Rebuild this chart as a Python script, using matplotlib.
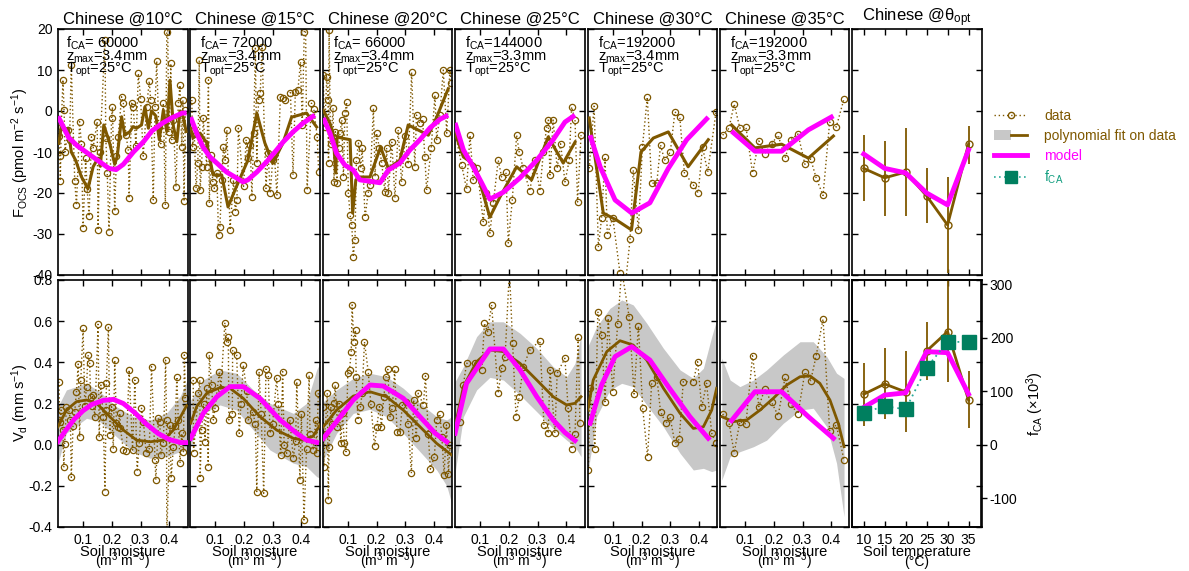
import numpy as np
import matplotlib
matplotlib.use('Agg')
import matplotlib.pyplot as plt
from matplotlib.lines import Line2D
from matplotlib.patches import Patch
from matplotlib.legend_handler import HandlerTuple

plt.rcParams['font.family'] = ['Liberation Sans', 'DejaVu Sans']
plt.rcParams['mathtext.fontset'] = 'custom'
plt.rcParams['mathtext.rm'] = 'Liberation Sans'
plt.rcParams['mathtext.it'] = 'Liberation Sans:italic'
plt.rcParams['mathtext.bf'] = 'Liberation Sans:bold'
plt.rcParams['axes.unicode_minus'] = False

# ---------------- DATA ----------------
temps_moist = [10, 15, 20, 25, 30, 35]
fca_text = [" 60000", " 72000", " 66000", "144000", "192000", "192000"]
zmax_text = ["3.4", "3.4", "3.4", "3.3", "3.4", "3.3"]
topt_text = ["25", "25", "25", "25", "25", "25"]

# ---- 10 C ----
p10_F = [(0.016,-6),(0.019,-11),(0.021,-17),(0.024,-3.8),(0.030,7.6),(0.034,0.2),(0.037,-10),(0.048,-4.6),(0.053,-7),(0.059,11.2),(0.071,-17),(0.077,-23),(0.088,-2.6),(0.094,-8),(0.100,-28.6),(0.109,-11.5),(0.114,-19),(0.121,-25.7),(0.129,-6.3),(0.135,-9),(0.149,-2.6),(0.152,-29),(0.158,-10),(0.176,17.3),(0.179,-6.7),(0.184,-15.2),(0.190,-29.4),(0.199,-1.8),(0.202,1),(0.210,-24.5),(0.216,-11),(0.222,-6.3),(0.234,3.5),(0.240,1.9),(0.249,-5.8),(0.257,-9.5),(0.260,-21.3),(0.269,1.9),(0.274,1),(0.284,-8.5),(0.292,9.2),(0.300,3),(0.309,-11),(0.321,1),(0.330,7.3),(0.335,2.7),(0.344,-21.7),(0.350,1),(0.356,12.2),(0.363,-3.8),(0.370,-8),(0.379,1.9),(0.386,-23),(0.391,19.3),(0.393,28),(0.398,-5),(0.405,11.6),(0.408,-7),(0.414,-2.2),(0.423,-18.5),(0.431,1.9),(0.437,6.3),(0.443,-8.7),(0.447,2.7),(0.451,-22),(0.456,0.2)]
p10_Ffit_x = [0.016,0.024,0.036,0.048,0.059,0.074,0.094,0.117,0.135,0.152,0.160,0.172,0.193,0.210,0.219,0.234,0.245,0.263,0.274,0.286,0.303,0.315,0.327,0.338,0.353,0.365,0.379,0.391,0.402,0.414,0.426,0.437,0.449,0.458]
p10_Ffit_y = [-7.9,-3.8,-4.5,-4.2,-10,-12,-16,-19,-13.6,-11.5,-13.5,-3.4,-8,-13,-11,-1.4,-5.9,-5,-3.8,-4.2,-3.4,1,-4.2,0,-1.2,-7,0.2,-5,7.5,-3.8,-7.5,0,-1.6,-5]
p10_Fmod_x = [0.013,0.05,0.08,0.11,0.15,0.19,0.215,0.24,0.275,0.31,0.34,0.375,0.41,0.445,0.46]
p10_Fmod_y = [-1.3,-6.5,-8.5,-10,-12,-14,-14.3,-13,-10,-7.5,-4.8,-3,-1.6,-0.5,-0.5]
p10_V = [(0.016,0.306),(0.019,0.112),(0.024,0.168),(0.030,0.071),(0.033,-0.11),(0.036,0.003),(0.042,0.185),(0.050,0.17),(0.056,0.12),(0.059,-0.159),(0.065,0.09),(0.071,0.16),(0.077,0.257),(0.083,0.392),(0.088,0.039),(0.092,0.314),(0.100,0.565),(0.106,0.188),(0.112,0.282),(0.117,0.436),(0.123,0.395),(0.126,0.233),(0.130,0.19),(0.133,0.241),(0.141,0.136),(0.152,0.585),(0.156,0.039),(0.162,0.29),(0.170,0.136),(0.176,-0.228),(0.180,0.17),(0.181,0.298),(0.188,0.57),(0.193,0.047),(0.199,0.185),(0.205,-0.021),(0.210,0.411),(0.216,0.104),(0.222,0.087),(0.228,0.152),(0.230,0.08),(0.240,-0.026),(0.250,-0.03),(0.260,0.363),(0.272,-0.026),(0.280,0.314),(0.288,-0.131),(0.295,0.006),(0.303,0.177),(0.310,0.11),(0.319,-0.042),(0.330,-0.02),(0.338,0.379),(0.350,-0.075),(0.353,-0.172),(0.362,0.128),(0.367,0.112),(0.370,-0.05),(0.379,0.006),(0.387,0.411),(0.390,0.12),(0.391,-0.45),(0.402,0.096),(0.406,-0.163),(0.414,-0.01),(0.420,0.09),(0.426,0.33),(0.431,0.12),(0.437,-0.09),(0.443,0.055),(0.449,-0.034),(0.452,0.436),(0.456,0.225)]
p10_Vfit_x = [0.013,0.042,0.077,0.112,0.147,0.193,0.240,0.286,0.333,0.379,0.414,0.460]
p10_Vfit_y = [0.087,0.168,0.209,0.217,0.201,0.136,0.071,0.022,0.014,0.022,0.071,0.19]
p10_band_x = [0.013,0.042,0.112,0.158,0.216,0.274,0.333,0.391,0.437,0.463]
p10_band_hi = [0.185,0.266,0.298,0.257,0.185,0.136,0.12,0.154,0.233,0.314]
p10_band_lo = [-0.09,0.056,0.128,0.112,0.039,-0.034,-0.066,-0.058,-0.034,-0.026]
p10_Vmod_x = [0.013,0.04,0.07,0.10,0.13,0.17,0.205,0.24,0.28,0.32,0.36,0.40,0.44,0.46]
p10_Vmod_y = [0.016,0.07,0.125,0.165,0.195,0.215,0.22,0.2,0.155,0.10,0.055,0.025,0.01,0.01]

# ---- 15 C ----
p15_F = [(0.019,2.7),(0.022,-8.7),(0.027,-4.6),(0.034,-18.9),(0.040,-12.8),(0.045,12.4),(0.048,-19.3),(0.053,-13.6),(0.059,-1.8),(0.065,-7.9),(0.071,-13.6),(0.077,7.6),(0.080,-22.5),(0.085,-10.7),(0.092,-17.2),(0.097,-18.9),(0.106,-15.2),(0.112,-30.2),(0.117,-28.2),(0.123,-16.8),(0.129,-8.7),(0.135,-12),(0.141,-4.6),(0.152,-29),(0.164,-16.8),(0.170,-24.6),(0.176,-21.7),(0.181,-4.2),(0.199,-18.4),(0.208,-7),(0.213,-11.5),(0.222,-8.3),(0.228,-20.9),(0.234,-5.4),(0.240,15.3),(0.245,-12.8),(0.251,2.7),(0.257,4.3),(0.263,15.7),(0.277,-18.9),(0.284,-10.3),(0.292,-20.1),(0.300,-12),(0.306,-10.7),(0.315,-20.5),(0.327,3.5),(0.336,3.1),(0.344,2.7),(0.362,4.5),(0.371,-15.6),(0.379,4.7),(0.388,5.1),(0.397,12),(0.403,-3.4),(0.410,19.3),(0.414,25),(0.420,-19.3),(0.435,1.9),(0.443,0.6),(0.455,-6.3),(0.460,-14.8)]
p15_Ffit_x = [0.015,0.023,0.048,0.071,0.093,0.123,0.145,0.169,0.214,0.245,0.273,0.301,0.336,0.366,0.418,0.453]
p15_Ffit_y = [-4.2,-6.6,-5.4,-7.8,-15.6,-15.6,-23.4,-19.3,-12,-0.5,-7.8,-12.7,-7.8,-1.5,-0.5,-3.9]
p15_Fmod_x = [0.015,0.036,0.058,0.082,0.106,0.14,0.169,0.197,0.214,0.245,0.279,0.308,0.336,0.371,0.405,0.447]
p15_Fmod_y = [-1.5,-5.4,-8.8,-11.2,-12.7,-14.9,-16.1,-17.3,-16.8,-14.9,-12.4,-10,-7.6,-5.1,-3,-1]
p15_V = [(0.024,0.314),(0.025,-0.039),(0.042,0.25),(0.047,0.314),(0.048,-0.163),(0.053,0.071),(0.060,0.2),(0.065,0.014),(0.071,0.274),(0.076,-0.107),(0.080,0.436),(0.088,0.29),(0.094,0.12),(0.100,0.18),(0.115,0.355),(0.120,0.27),(0.134,0.593),(0.140,0.5),(0.146,0.525),(0.148,0.12),(0.160,0.15),(0.161,0.46),(0.175,0.436),(0.184,0.055),(0.190,0.2),(0.198,0.387),(0.210,0.26),(0.215,0.12),(0.231,0.16),(0.240,0.1),(0.245,-0.228),(0.253,0.355),(0.260,0.15),(0.269,-0.236),(0.277,0.367),(0.285,0.338),(0.291,0.055),(0.300,0.1),(0.314,0.322),(0.320,0.2),(0.328,-0.05),(0.335,0.355),(0.340,0.0),(0.349,-0.042),(0.360,0.12),(0.372,-0.066),(0.380,0.02),(0.384,0.306),(0.395,-0.172),(0.400,0.15),(0.409,-0.366),(0.418,-0.021),(0.427,0.338),(0.430,0.05),(0.441,-0.026),(0.450,0.12),(0.453,-0.039),(0.459,0.25)]
p15_Vfit_x = [0.015,0.036,0.071,0.117,0.152,0.198,0.256,0.314,0.372,0.407,0.441,0.465]
p15_Vfit_y = [0.104,0.185,0.25,0.277,0.274,0.225,0.136,0.071,0.031,0.022,0.042,0.096]
p15_band_x = [0.015,0.059,0.117,0.175,0.233,0.291,0.372,0.418,0.453,0.465]
p15_band_hi = [0.217,0.314,0.363,0.347,0.266,0.201,0.152,0.201,0.363,0.397]
p15_band_lo = [-0.01,0.152,0.193,0.168,0.071,-0.026,-0.09,-0.107,-0.155,-0.163]
p15_Vmod_x = [0.015,0.059,0.106,0.152,0.198,0.256,0.326,0.384,0.418,0.453]
p15_Vmod_y = [0.031,0.152,0.233,0.282,0.282,0.225,0.12,0.055,0.022,0.011]

# ---- 20 C ----
p20_F = [(0.014,8.8),(0.020,-4),(0.027,8.3),(0.031,2.7),(0.033,-12.7),(0.035,19.8),(0.040,-8),(0.049,0.7),(0.052,-17.3),(0.057,-5),(0.062,-17.6),(0.068,-9),(0.073,-5.4),(0.079,-2.2),(0.085,-16),(0.090,-0.5),(0.096,2.2),(0.102,-20),(0.108,-25.4),(0.114,-27.8),(0.119,-35.6),(0.125,-31.5),(0.130,-12),(0.137,-7.8),(0.145,-14),(0.150,-9),(0.160,-25.9),(0.171,-20),(0.177,-18),(0.189,0.7),(0.195,-16),(0.200,-5.4),(0.210,-9),(0.218,-12.7),(0.229,-19.8),(0.235,-9),(0.241,-20),(0.253,-7.6),(0.264,-21.2),(0.275,-4.6),(0.287,-17.3),(0.300,-6),(0.310,-13),(0.322,9.5),(0.333,-13.6),(0.339,-1),(0.350,-3),(0.360,-2),(0.368,-11.2),(0.374,-19.3),(0.390,-9),(0.403,3.9),(0.409,-7),(0.420,-1),(0.432,10),(0.444,-5.4),(0.455,10),(0.459,6.8)]
p20_Ffit_x = [0.015,0.038,0.049,0.058,0.063,0.079,0.108,0.117,0.128,0.142,0.177,0.214,0.241,0.281,0.310,0.380,0.409,0.449]
p20_Ffit_y = [0.2,-3,-5.4,-15.1,-6.3,-6.6,-7,-24.9,-16.8,-16.1,-16.1,-8.8,-14,-12,-3.4,-5.9,-1.5,5.4]
p20_Fmod_x = [0.015,0.038,0.061,0.09,0.119,0.142,0.212,0.241,0.281,0.316,0.351,0.386,0.421,0.449]
p20_Fmod_y = [-1.7,-5.4,-10.3,-13.2,-14.4,-16.8,-17.5,-14.4,-12.7,-9.5,-7,-4.1,-2,-1]
p20_V = [(0.014,0.185),(0.017,-0.107),(0.020,0.05),(0.029,0.25),(0.032,-0.269),(0.035,-0.01),(0.041,0.185),(0.045,0.1),(0.052,0.201),(0.056,0.29),(0.064,0.087),(0.070,0.2),(0.076,0.006),(0.082,0.152),(0.088,0.006),(0.094,-0.034),(0.100,0.347),(0.106,0.363),(0.112,0.452),(0.115,0.679),(0.121,0.5),(0.127,0.557),(0.129,0.33),(0.135,0.12),(0.144,0.185),(0.150,0.25),(0.158,0.5),(0.171,0.355),(0.180,0.2),(0.193,-0.006),(0.201,0.087),(0.210,0.185),(0.217,0.087),(0.225,0.23),(0.233,0.33),(0.239,0.366),(0.247,0.136),(0.255,0.18),(0.263,0.366),(0.271,0.063),(0.281,0.063),(0.290,0.193),(0.302,0.209),(0.310,0.1),(0.321,-0.139),(0.329,0.217),(0.338,0.031),(0.345,0.25),(0.363,0.193),(0.370,0.334),(0.380,0.05),(0.387,-0.119),(0.401,-0.058),(0.409,0.12),(0.420,0.15),(0.427,0.039),(0.435,-0.147),(0.443,0.096),(0.450,-0.143),(0.455,0.0)]
p20_Vfit_x = [0.015,0.061,0.119,0.177,0.235,0.293,0.351,0.409,0.461]
p20_Vfit_y = [0.087,0.168,0.236,0.257,0.233,0.168,0.087,0.006,-0.05]
p20_band_x = [0.015,0.061,0.119,0.177,0.235,0.293,0.351,0.409,0.444,0.461]
p20_band_hi = [0.209,0.266,0.322,0.347,0.33,0.274,0.201,0.136,0.12,0.136]
p20_band_lo = [-0.074,0.055,0.152,0.172,0.136,0.055,-0.034,-0.123,-0.2,-0.285]
p20_Vmod_x = [0.015,0.061,0.119,0.177,0.223,0.293,0.351,0.404,0.444]
p20_Vmod_y = [0.031,0.112,0.217,0.29,0.285,0.225,0.136,0.055,0.014]

# ---- 25 C ----
p25_F = [(0.013,-5.1),(0.036,-13.2),(0.053,-19),(0.065,-5.9),(0.076,-16.8),(0.090,-14),(0.111,-27),(0.120,-20),(0.134,-29.8),(0.146,-22.4),(0.163,-12),(0.175,-16.1),(0.190,-15),(0.198,-32.2),(0.212,-21.7),(0.227,-5.9),(0.236,-10),(0.250,-14),(0.273,-19.5),(0.290,-12),(0.308,-19.5),(0.320,-10),(0.331,-4.2),(0.337,-2.2),(0.343,-15.6),(0.354,-2.2),(0.368,-14),(0.380,-8),(0.395,-17.3),(0.410,-12),(0.418,1),(0.430,-2.2),(0.439,-22.2),(0.451,-5.9)]
p25_Ffit_x = [0.013,0.042,0.082,0.134,0.169,0.227,0.279,0.337,0.389,0.43]
p25_Ffit_y = [-5.4,-11.2,-13.2,-25.9,-21,-13.6,-16.8,-6.3,-12.7,-7.6]
p25_Fmod_x = [0.013,0.042,0.076,0.106,0.134,0.181,0.239,0.297,0.354,0.395,0.43]
p25_Fmod_y = [-2.9,-9.5,-13.6,-17.6,-21.5,-19.8,-16.3,-12,-7,-2.7,-1]
p25_V = [(0.030,0.112),(0.042,0.29),(0.053,0.395),(0.082,0.395),(0.106,0.363),(0.115,0.59),(0.126,0.549),(0.140,0.679),(0.163,0.25),(0.175,0.371),(0.187,0.428),(0.202,0.85),(0.213,0.495),(0.225,0.136),(0.236,0.233),(0.250,0.379),(0.273,0.46),(0.308,0.505),(0.322,0.096),(0.337,0.055),(0.343,0.363),(0.360,0.055),(0.368,0.347),(0.395,0.42),(0.406,0.177),(0.418,-0.021),(0.430,0.052),(0.441,0.525),(0.447,0.104)]
p25_Vfit_x = [0.013,0.042,0.088,0.134,0.181,0.239,0.297,0.354,0.401,0.43,0.451]
p25_Vfit_y = [0.087,0.282,0.403,0.46,0.452,0.395,0.314,0.233,0.193,0.201,0.233]
p25_band_x = [0.013,0.042,0.088,0.134,0.181,0.239,0.297,0.354,0.401,0.43,0.451]
p25_band_hi = [0.306,0.379,0.525,0.597,0.597,0.541,0.468,0.379,0.33,0.395,0.533]
p25_band_lo = [-0.139,0.136,0.266,0.327,0.314,0.241,0.16,0.079,0.022,-0.01,-0.058]
p25_Vmod_x = [0.013,0.053,0.1,0.134,0.181,0.239,0.297,0.354,0.395,0.43]
p25_Vmod_y = [0.055,0.298,0.395,0.465,0.465,0.363,0.233,0.12,0.059,0.02]

# ---- 30 C ----
p30_F = [(0.018,-14),(0.035,1.2),(0.050,-33.2),(0.061,-26.1),(0.073,-11.2),(0.081,-30.2),(0.100,-26),(0.125,-39.5),(0.140,-45),(0.160,-31.3),(0.171,-14.4),(0.189,-29),(0.203,-8.8),(0.220,3.4),(0.235,-17.6),(0.253,-17.6),(0.266,-8.3),(0.280,-12),(0.300,-10),(0.316,-0.2),(0.333,-1.5),(0.349,-15.1),(0.380,-18),(0.397,-20),(0.412,-8.8),(0.430,-14.9),(0.459,-0.2)]
p30_Ffit_x = [0.018,0.067,0.113,0.165,0.198,0.241,0.293,0.362,0.432]
p30_Ffit_y = [-1.7,-24.9,-26.6,-29,-10,-6.6,-5.1,-13.6,-7]
p30_Fmod_x = [0.021,0.056,0.108,0.166,0.229,0.293,0.357,0.432]
p30_Fmod_y = [-5.9,-13.6,-21.7,-24.9,-22.4,-14,-7,-1.5]
p30_V = [(0.015,-0.123),(0.021,0.274),(0.038,-0.021),(0.048,0.646),(0.061,0.533),(0.073,0.209),(0.084,0.614),(0.100,0.257),(0.117,0.586),(0.131,0.85),(0.157,0.619),(0.174,0.246),(0.189,0.577),(0.204,0.177),(0.221,-0.058),(0.235,0.298),(0.253,0.33),(0.266,0.16),(0.285,0.104),(0.299,0.136),(0.316,0.006),(0.331,0.026),(0.345,0.306),(0.380,0.306),(0.395,0.403),(0.409,0.181),(0.426,0.298),(0.444,0.055),(0.459,0.006)]
p30_Vfit_x = [0.013,0.032,0.079,0.125,0.171,0.218,0.276,0.334,0.38,0.415,0.444,0.461]
p30_Vfit_y = [0.168,0.314,0.452,0.505,0.484,0.411,0.274,0.152,0.079,0.087,0.168,0.274]
p30_band_x = [0.013,0.044,0.09,0.131,0.171,0.218,0.276,0.334,0.38,0.415,0.444,0.461]
p30_band_hi = [0.476,0.573,0.662,0.703,0.679,0.59,0.468,0.363,0.322,0.371,0.525,0.606]
p30_band_lo = [-0.139,0.136,0.266,0.298,0.282,0.193,0.087,-0.042,-0.123,-0.115,-0.131,-0.123]
p30_Vmod_x = [0.021,0.061,0.108,0.166,0.229,0.293,0.368,0.432]
p30_Vmod_y = [0.104,0.29,0.428,0.476,0.411,0.282,0.136,0.031]

# ---- 35 C ----
p35_F = [(0.022,-5.9),(0.044,-4.2),(0.062,1.7),(0.082,-4.2),(0.103,-3.9),(0.126,-15.1),(0.148,-7.3),(0.168,-10.5),(0.192,-8),(0.215,-5.9),(0.239,-11.5),(0.259,-7),(0.284,-5.6),(0.308,-13),(0.328,-11.7),(0.347,-16.3),(0.371,-20.6),(0.394,-2.7),(0.417,-3.9),(0.444,3)]
p35_Ffit_x = [0.053,0.134,0.227,0.32,0.407]
p35_Ffit_y = [-3.4,-9,-8.1,-11.5,-6.1]
p35_Fmod_x = [0.053,0.134,0.227,0.32,0.407]
p35_Fmod_y = [-4.9,-9.8,-9.8,-4.6,-1.2]
p35_V = [(0.022,0.149),(0.044,0.107),(0.062,-0.039),(0.082,0.112),(0.103,0.1),(0.126,0.432),(0.148,0.185),(0.168,0.269),(0.192,0.206),(0.215,0.141),(0.239,0.327),(0.259,0.196),(0.284,0.149),(0.308,0.353),(0.328,0.311),(0.347,0.431),(0.371,0.61),(0.394,0.068),(0.417,0.096),(0.444,-0.075)]
p35_Vfit_x = [0.019,0.059,0.106,0.152,0.198,0.245,0.291,0.326,0.360,0.395,0.424,0.444]
p35_Vfit_y = [0.136,0.112,0.12,0.168,0.225,0.29,0.33,0.334,0.298,0.217,0.104,-0.01]
p35_band_x = [0.019,0.048,0.082,0.129,0.175,0.233,0.291,0.337,0.384,0.418,0.444]
p35_band_hi = [0.42,0.314,0.282,0.314,0.363,0.436,0.5,0.5,0.428,0.347,0.322]
p35_band_lo = [-0.172,-0.058,-0.034,-0.01,0.022,0.104,0.168,0.177,0.087,-0.09,-0.35]
p35_Vmod_x = [0.053,0.134,0.227,0.32,0.407]
p35_Vmod_y = [0.117,0.257,0.257,0.136,0.031]

# ---- optimum-moisture panel ----
soil_temp = [10, 15, 20, 25, 30, 35]
opt_F = [-14, -16.3, -14.9, -20.7, -27.8, -8.1]
opt_F_lo = [-22, -25.6, -25.6, -27.3, -39.5, -12.9]
opt_F_hi = [-5.9, -7.3, -4.1, -13.9, -16.1, -3.7]
opt_Fmod = [-10.5, -14, -15.1, -20, -22.9, -9.5]
opt_V = [0.245, 0.295, 0.256, 0.455, 0.549, 0.217]
opt_V_lo = [0.091, 0.123, 0.06, 0.314, 0.303, 0.081]
opt_V_hi = [0.398, 0.468, 0.455, 0.597, 0.85, 0.359]
opt_Vmod = [0.181, 0.241, 0.252, 0.452, 0.447, 0.246]
fca_k = [60, 72, 66, 144, 192, 192]

moist_ticks = [0.1, 0.2, 0.3, 0.4]
F_ticks = [-40, -30, -20, -10, 0, 10, 20]
V_ticks = [-0.4, -0.2, 0.0, 0.2, 0.4, 0.6, 0.8]
V_ticklabels = ["-0.4", "-0.2", "0.0", "0.2", "0.4", "0.6", "0.8"]
fca_ticks = [-100, 0, 100, 200, 300]

panels = [
    (p10_F, p10_Ffit_x, p10_Ffit_y, p10_Fmod_x, p10_Fmod_y, p10_V, p10_Vfit_x, p10_Vfit_y, p10_band_x, p10_band_lo, p10_band_hi, p10_Vmod_x, p10_Vmod_y),
    (p15_F, p15_Ffit_x, p15_Ffit_y, p15_Fmod_x, p15_Fmod_y, p15_V, p15_Vfit_x, p15_Vfit_y, p15_band_x, p15_band_lo, p15_band_hi, p15_Vmod_x, p15_Vmod_y),
    (p20_F, p20_Ffit_x, p20_Ffit_y, p20_Fmod_x, p20_Fmod_y, p20_V, p20_Vfit_x, p20_Vfit_y, p20_band_x, p20_band_lo, p20_band_hi, p20_Vmod_x, p20_Vmod_y),
    (p25_F, p25_Ffit_x, p25_Ffit_y, p25_Fmod_x, p25_Fmod_y, p25_V, p25_Vfit_x, p25_Vfit_y, p25_band_x, p25_band_lo, p25_band_hi, p25_Vmod_x, p25_Vmod_y),
    (p30_F, p30_Ffit_x, p30_Ffit_y, p30_Fmod_x, p30_Fmod_y, p30_V, p30_Vfit_x, p30_Vfit_y, p30_band_x, p30_band_lo, p30_band_hi, p30_Vmod_x, p30_Vmod_y),
    (p35_F, p35_Ffit_x, p35_Ffit_y, p35_Fmod_x, p35_Fmod_y, p35_V, p35_Vfit_x, p35_Vfit_y, p35_band_x, p35_band_lo, p35_band_hi, p35_Vmod_x, p35_Vmod_y),
]

# ---------------- STYLE ----------------
BROWN = '#7F5800'
MAG = '#FF00FF'
TEAL = '#007F5F'
TEAL_L = '#2AAA98'
TEAL_TXT = '#139E80'
GREY = '#C8C8C8'

W, H = 1189, 571
fig = plt.figure(figsize=(W / 100, H / 100), dpi=100)
col_left = [58, 190, 322.7, 455, 587.7, 720, 852]
col_w = 129.5
TOP_ROW = (29, 275)
BOT_ROW = (280, 527)
XLIM = (0.0128, 0.463)


def ax_at(left, top, bottom):
    return fig.add_axes([left / W, 1 - bottom / H, col_w / W, (bottom - top) / H])


def style(ax):
    ax.tick_params(direction='in', top=True, right=True, length=4, width=1,
                   labelsize=10, pad=4)
    for s in ax.spines.values():
        s.set_linewidth(1.2)


def plot_data(ax, pts):
    a = np.array(pts)
    ax.plot(a[:, 0], a[:, 1], ls=(0, (1, 1.8)), lw=1, color=BROWN, marker='o',
            ms=4.5, mfc='none', mec=BROWN, mew=0.9, zorder=2)


def xlabel_two_lines(cx, line1, line2):
    fig.text(cx, 1 - 556 / H, line1, ha='center', va='baseline', fontsize=10.5)
    fig.text(cx, 1 - 566 / H, line2, ha='center', va='baseline', fontsize=10)


for i in range(6):
    (F, Ffx, Ffy, Fmx, Fmy, V, Vfx, Vfy, bx, blo, bhi, Vmx, Vmy) = panels[i]
    axF = ax_at(col_left[i], *TOP_ROW)
    axV = ax_at(col_left[i], *BOT_ROW)
    # top row
    plot_data(axF, F)
    axF.plot(Ffx, Ffy, color=BROWN, lw=2.2, zorder=3)
    axF.plot(Fmx, Fmy, color=MAG, lw=3.5, zorder=4, solid_capstyle='butt')
    axF.set_xlim(*XLIM)
    axF.set_ylim(-40, 20)
    axF.set_xticks(moist_ticks)
    axF.set_xticklabels([])
    axF.set_yticks(F_ticks)
    if i > 0:
        axF.set_yticklabels([])
    style(axF)
    axF.set_title(f'Chinese @{temps_moist[i]}°C', fontsize=12, pad=4)
    xo = 0.06 if i == 0 else 0.08
    axF.text(xo, 0.923, 'f$_{\\mathrm{CA}}$=' + fca_text[i], transform=axF.transAxes,
             fontsize=10.5, va='baseline', ha='left')
    axF.text(xo, 0.870, 'z$_{\\mathrm{max}}$=' + zmax_text[i] + 'mm', transform=axF.transAxes,
             fontsize=10.5, va='baseline', ha='left')
    axF.text(xo, 0.821, 'T$_{\\mathrm{opt}}$=' + topt_text[i] + '°C', transform=axF.transAxes,
             fontsize=10.5, va='baseline', ha='left')
    # bottom row
    axV.fill_between(bx, blo, bhi, color=GREY, lw=0, zorder=1)
    plot_data(axV, V)
    axV.plot(Vfx, Vfy, color=BROWN, lw=2, zorder=3)
    axV.plot(Vmx, Vmy, color=MAG, lw=3.5, zorder=4)
    axV.set_xlim(*XLIM)
    axV.set_ylim(-0.4, 0.8)
    axV.set_xticks(moist_ticks)
    axV.set_xticklabels(['0.1', '0.2', '0.3', '0.4'])
    axV.set_yticks(V_ticks)
    if i > 0:
        axV.set_yticklabels([])
    else:
        axV.set_yticklabels(V_ticklabels)
    style(axV)
    xlabel_two_lines((col_left[i] + col_w / 2) / W, 'Soil moisture', '(m$^{3}$ m$^{-3}$)')

# ---- last column ----
t = np.array(soil_temp)
axF7 = ax_at(col_left[6], *TOP_ROW)
F = np.array(opt_F)
axF7.errorbar(t, F, yerr=[F - np.array(opt_F_lo), np.array(opt_F_hi) - F], color=BROWN,
              lw=2, elinewidth=1.3, capsize=0, marker='o', ms=5, mfc='none', mew=1, zorder=3)
axF7.plot(t, opt_Fmod, color=MAG, lw=3.5, zorder=4)
axF7.set_xlim(7.2, 38.1)
axF7.set_ylim(-40, 20)
axF7.set_xticks(soil_temp)
axF7.set_xticklabels([])
axF7.set_yticks(F_ticks)
axF7.set_yticklabels([])
style(axF7)
axF7.set_title('Chinese @θ$_{\\mathrm{opt}}$', fontsize=12, pad=4)

axV7 = ax_at(col_left[6], *BOT_ROW)
axR = axV7.twinx()
V = np.array(opt_V)
axV7.errorbar(t, V, yerr=[V - np.array(opt_V_lo), np.array(opt_V_hi) - V], color=BROWN,
              lw=2, elinewidth=1.3, capsize=0, marker='o', ms=5, mfc='none', mew=1, zorder=3)
axV7.plot(t, opt_Vmod, color=MAG, lw=3.5, zorder=4)
axV7.set_xlim(7.2, 38.1)
axV7.set_ylim(-0.4, 0.8)
axV7.set_xticks(soil_temp)
axV7.set_xticklabels([str(v) for v in soil_temp])
axV7.set_yticks(V_ticks)
axV7.set_yticklabels([])
style(axV7)
axR.plot(t, fca_k, ls=(0, (1, 2.2)), lw=1.3, color=TEAL_L, marker='s', ms=10,
         mfc=TEAL, mec=TEAL, zorder=5)
axR.set_ylim(-0.4 * 384.6, 0.8 * 384.6)
axR.set_yticks(fca_ticks)
axR.tick_params(direction='out', length=4, width=1, labelsize=10, pad=2)
for s in axR.spines.values():
    s.set_linewidth(1.2)
axR.set_ylabel('f$_{\\mathrm{CA}}$ (×10$^{3}$)', fontsize=10.5, labelpad=5)
xlabel_two_lines((col_left[6] + col_w / 2) / W, 'Soil temperature', '(°C)')

# y labels
fig.text(20 / W, 1 - 153 / H, 'F$_{\\mathrm{OCS}}$ (pmol m$^{-2}$ s$^{-1}$)', rotation=90,
         ha='center', va='center', fontsize=10.5)
fig.text(20 / W, 1 - 403 / H, 'V$_{\\mathrm{d}}$ (mm s$^{-1}$)', rotation=90,
         ha='center', va='center', fontsize=10.5)

# legend
h_data = Line2D([], [], color=BROWN, ls=(0, (1, 2)), lw=1, marker='o', ms=4.5, mfc='none', mec=BROWN)
h_fit = (Patch(facecolor=GREY, edgecolor='none'), Line2D([], [], color=BROWN, lw=2))
h_mod = Line2D([], [], color=MAG, lw=3.5)
h_fca = Line2D([], [], color=TEAL_L, ls=(0, (1, 2)), lw=1.2, marker='s', ms=9, mfc=TEAL, mec=TEAL)
leg = fig.legend([h_data, h_fit, h_mod, h_fca],
                 ['data', 'polynomial fit on data', 'model', 'f$_{\\mathrm{CA}}$'],
                 loc='upper left', bbox_to_anchor=(994 / W, 1 - 109 / H), frameon=False,
                 fontsize=10, handlelength=2.4, handletextpad=1.2, labelspacing=0.42,
                 numpoints=1, borderaxespad=0, borderpad=0,
                 handler_map={tuple: HandlerTuple(ndivide=None)})
for txt, c in zip(leg.get_texts(), [BROWN, BROWN, MAG, TEAL_TXT]):
    txt.set_color(c)

fig.savefig('out.png', dpi=100)
